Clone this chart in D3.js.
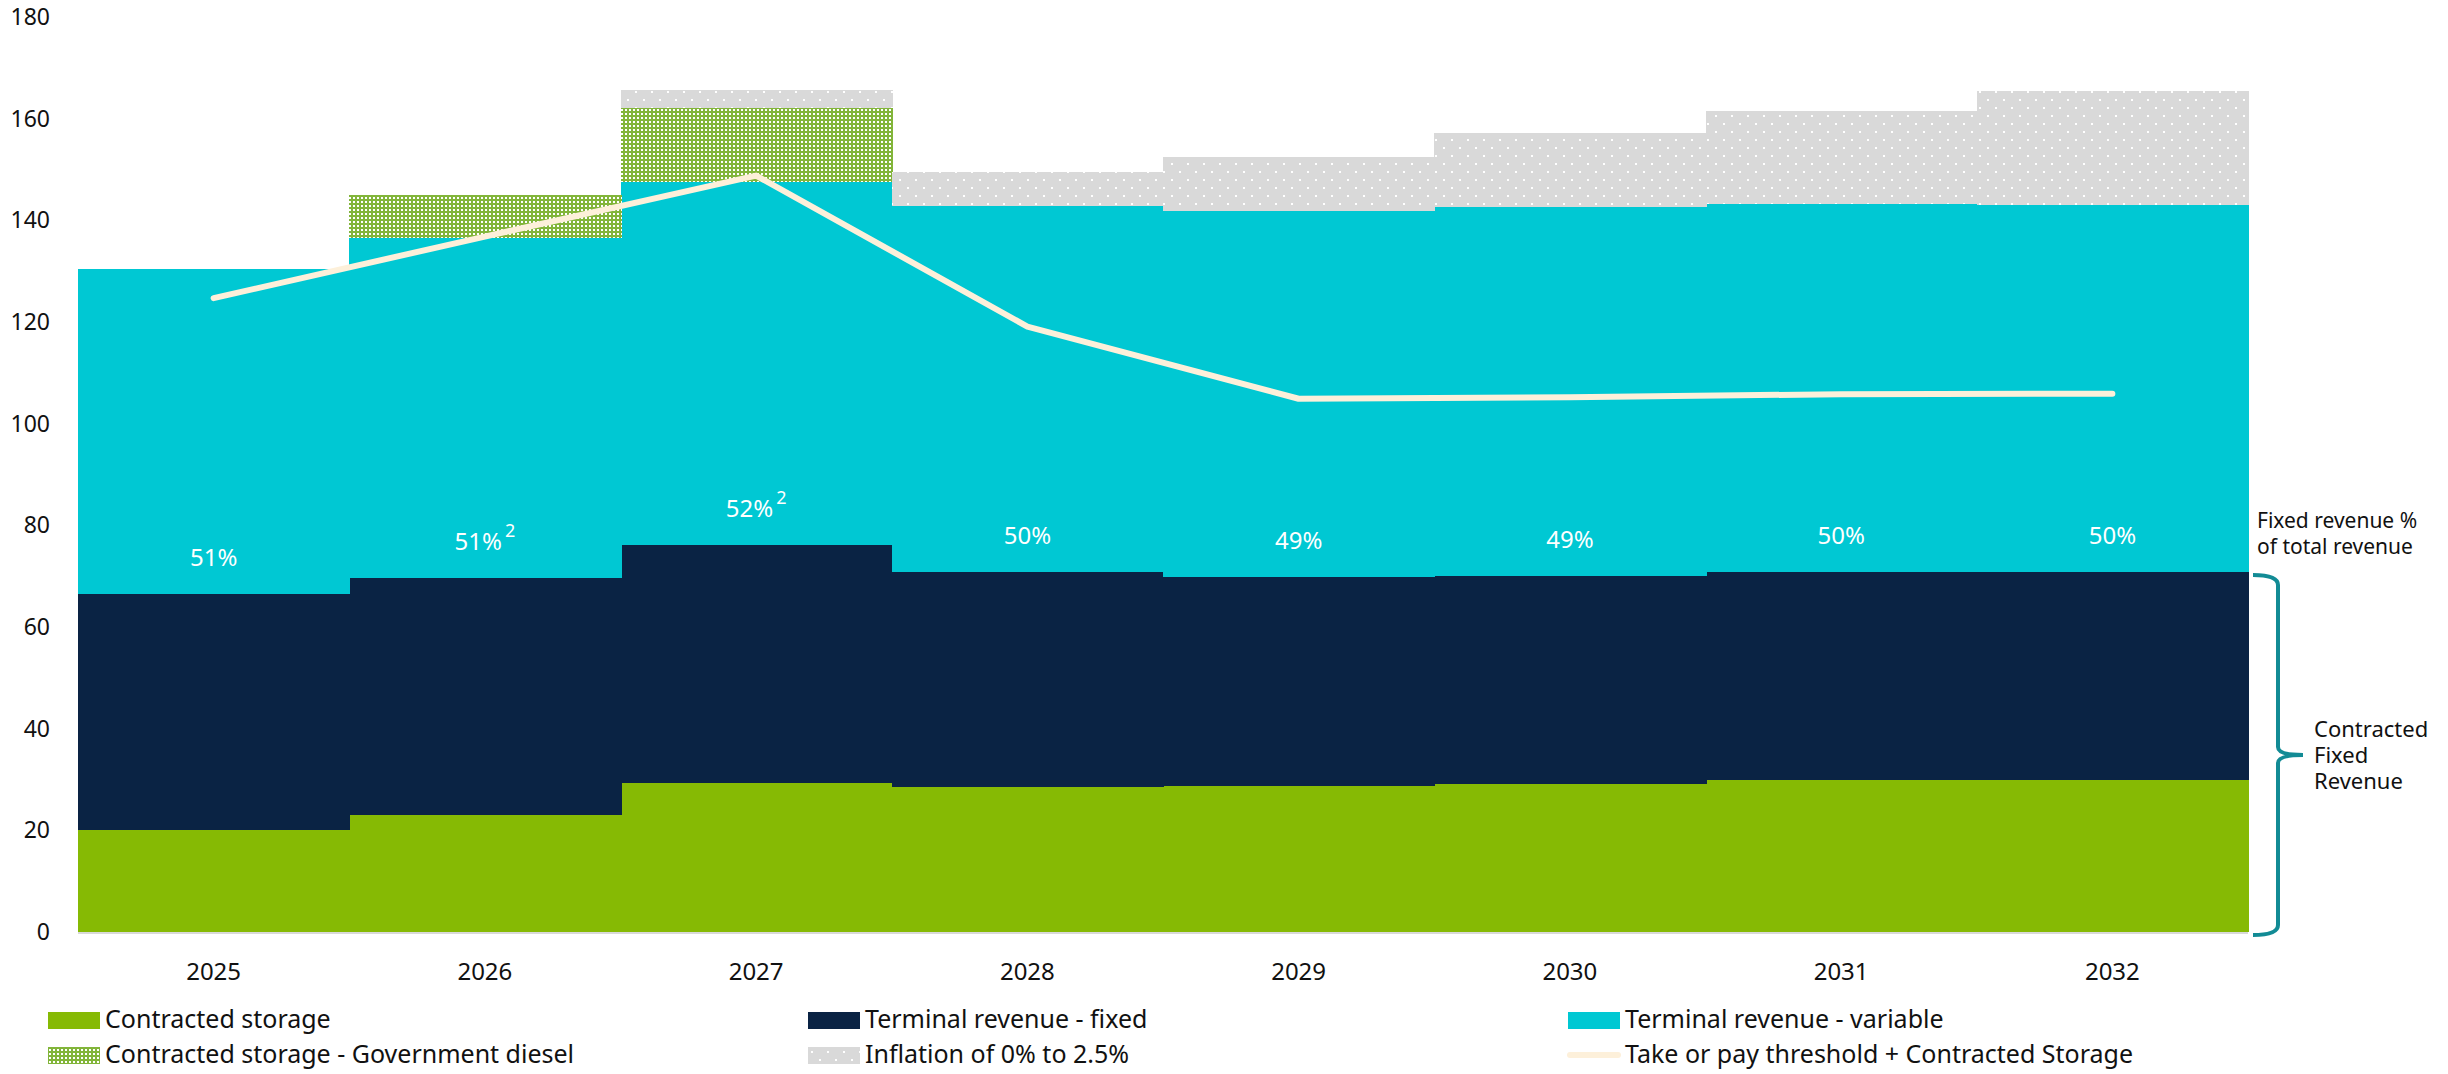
<!DOCTYPE html>
<html>
<head>
<meta charset="utf-8">
<script src="https://cdn.jsdelivr.net/npm/d3@7"></script>
<style>
  body { margin: 0; background: #fff; }
  svg { display: block; }
  text { font-family: "Noto Sans", sans-serif; fill: #111; }
</style>
</head>
<body>
<script>
// Chart data
const years = ["2025", "2026", "2027", "2028", "2029", "2030", "2031", "2032"];
const contractedStorage = [20.0, 23.0, 29.3, 28.5, 28.8, 29.1, 29.9, 30.0];
const terminalFixed = [46.5, 46.7, 46.8, 42.3, 41.0, 40.9, 40.9, 40.8];
const terminalVariable = [63.9, 66.9, 71.5, 72.0, 72.1, 72.7, 72.5, 72.2];
const govDiesel = [0, 8.4, 14.5, 0, 0, 0, 0, 0];
const inflation = [0, 0, 3.5, 6.8, 10.5, 14.4, 18.3, 22.4];
const takeOrPay = [124.7, 136.8, 148.8, 119.1, 104.9, 105.2, 105.8, 105.9];
const fixedPct = ["51%", "51%", "52%", "50%", "49%", "49%", "50%", "50%"];
const fixedPctNote = ["", "2", "2", "", "", "", "", ""];
const yTicks = [0, 20, 40, 60, 80, 100, 120, 140, 160, 180];

const seriesKeys = ["storage", "fixed", "variable", "gov", "inflation"];
const seriesNames = {
  storage: "Contracted storage",
  fixed: "Terminal revenue - fixed",
  variable: "Terminal revenue - variable",
  gov: "Contracted storage - Government diesel",
  inflation: "Inflation of 0% to 2.5%"
};
const seriesFill = {
  storage: "#86ba04",
  fixed: "#0a2344",
  variable: "#00c8d3",
  gov: "url(#govPattern)",
  inflation: "url(#inflPattern)"
};

const rows = years.map((yr, i) => ({
  year: yr,
  storage: contractedStorage[i],
  fixed: terminalFixed[i],
  variable: terminalVariable[i],
  gov: govDiesel[i],
  inflation: inflation[i]
}));

const W = 2448, H = 1074;
const svg = d3.select("body").append("svg").attr("width", W).attr("height", H);

// Patterns for the dotted series
const defs = svg.append("defs");
const gp = defs.append("pattern").attr("id", "govPattern")
  .attr("width", 4).attr("height", 4).attr("patternUnits", "userSpaceOnUse");
gp.append("rect").attr("width", 4).attr("height", 4).attr("fill", "#82b53a");
gp.append("rect").attr("x", 1).attr("y", 1).attr("width", 2).attr("height", 2).attr("fill", "#fff");

const ip = defs.append("pattern").attr("id", "inflPattern")
  .attr("width", 16).attr("height", 16).attr("patternUnits", "userSpaceOnUse");
ip.append("rect").attr("width", 16).attr("height", 16).attr("fill", "#d9d9d9");
ip.append("rect").attr("x", 3).attr("y", 3).attr("width", 2).attr("height", 2).attr("fill", "#fff");
ip.append("rect").attr("x", 11).attr("y", 11).attr("width", 2).attr("height", 2).attr("fill", "#fff");

// Scales
const x = d3.scaleBand().domain(years).range([78, 2248]).padding(0);
const y = d3.scaleLinear().domain([0, 180]).range([932, 17]);

const stacked = d3.stack().keys(seriesKeys)(rows);

// Bars
svg.append("g")
  .attr("shape-rendering", "crispEdges")
  .selectAll("g")
  .data(stacked)
  .join("g")
  .attr("fill", d => seriesFill[d.key])
  .selectAll("rect")
  .data(d => d)
  .join("rect")
  .attr("x", d => Math.round(x(d.data.year)))
  .attr("width", d => Math.round(x(d.data.year) + x.bandwidth()) - Math.round(x(d.data.year)) + 1)
  .attr("y", d => y(d[1]))
  .attr("height", d => Math.max(0, y(d[0]) - y(d[1])));

// Baseline
svg.append("line")
  .attr("x1", x.range()[0]).attr("x2", x.range()[1])
  .attr("y1", y(0) + 1).attr("y2", y(0) + 1)
  .attr("stroke", "#d9d9d9").attr("stroke-width", 2);

// Y axis labels (no axis line)
svg.append("g").selectAll("text")
  .data(yTicks)
  .join("text")
  .attr("x", 50)
  .attr("y", d => y(d) + 8)
  .attr("text-anchor", "end")
  .attr("font-size", 23)
  .text(d => d);

// X axis labels
svg.append("g").selectAll("text")
  .data(years)
  .join("text")
  .attr("x", d => x(d) + x.bandwidth() / 2)
  .attr("y", 980)
  .attr("text-anchor", "middle")
  .attr("font-size", 24)
  .text(d => d);

// Take or pay line
const line = d3.line()
  .x((d, i) => x(years[i]) + x.bandwidth() / 2)
  .y(d => y(d));
svg.append("path")
  .datum(takeOrPay)
  .attr("d", line)
  .attr("fill", "none")
  .attr("stroke", "#fdf0da")
  .attr("stroke-width", 6)
  .attr("stroke-linecap", "round")
  .attr("stroke-linejoin", "round");

// Fixed revenue % labels
const fixedTop = stacked[1];
const pctG = svg.append("g");
years.forEach((yr, i) => {
  const t = pctG.append("text")
    .attr("x", x(yr) + x.bandwidth() / 2)
    .attr("y", y(fixedTop[i][1]) - 28)
    .attr("text-anchor", "middle")
    .attr("font-family", "'Liberation Sans Narrow', 'Liberation Sans', sans-serif")
    .attr("font-size", 24)
    .style("fill", "#fff");
  t.append("tspan").text(fixedPct[i]);
  if (fixedPctNote[i]) {
    t.append("tspan").attr("dx", 3).attr("dy", -13).attr("font-size", 18).text(fixedPctNote[i]);
  }
});

// Right-side annotations
const ann = svg.append("g").attr("font-size", 21);
ann.append("text").attr("x", 2257).attr("y", 528).text("Fixed revenue %");
ann.append("text").attr("x", 2257).attr("y", 554).text("of total revenue");
["Contracted", "Fixed", "Revenue"].forEach((s, i) => {
  ann.append("text").attr("x", 2314).attr("y", 737 + i * 26).attr("font-size", 22).text(s);
});

// Brace
const bTop = y(fixedTop[fixedTop.length - 1][1]) + 3;
const bBot = y(0) + 3;
const bMid = (bTop + bBot) / 2;
const bx0 = 2253, bx1 = 2278, bTip = 2303;
const brace = d3.path();
brace.moveTo(bx0, bTop);
brace.quadraticCurveTo(bx1, bTop, bx1, bTop + 10);
brace.lineTo(bx1, bMid - 8);
brace.quadraticCurveTo(bx1, bMid, bTip, bMid);
brace.quadraticCurveTo(bx1, bMid, bx1, bMid + 8);
brace.lineTo(bx1, bBot - 10);
brace.quadraticCurveTo(bx1, bBot, bx0, bBot);
svg.append("path")
  .attr("d", brace.toString())
  .attr("fill", "none")
  .attr("stroke", "#128b95")
  .attr("stroke-width", 4);

// Legend
const legendItems = [
  { key: "storage", col: 0, row: 0 },
  { key: "fixed", col: 1, row: 0 },
  { key: "variable", col: 2, row: 0 },
  { key: "gov", col: 0, row: 1 },
  { key: "inflation", col: 1, row: 1 },
  { key: "line", col: 2, row: 1 }
];
const colX = [48, 808, 1568];
const rowY = [1020, 1055];
const leg = svg.append("g");
legendItems.forEach(it => {
  const gx = colX[it.col], gy = rowY[it.row];
  if (it.key === "line") {
    leg.append("line")
      .attr("x1", gx + 2).attr("x2", gx + 50)
      .attr("y1", gy).attr("y2", gy)
      .attr("stroke", "#fdf0da").attr("stroke-width", 6)
      .attr("stroke-linecap", "round");
  } else {
    leg.append("rect")
      .attr("x", gx).attr("y", gy - 8)
      .attr("width", 52).attr("height", 17)
      .attr("fill", seriesFill[it.key]);
  }
  leg.append("text")
    .attr("x", gx + 57)
    .attr("y", gy + 8)
    .attr("font-size", 25)
    .text(it.key === "line" ? "Take or pay threshold + Contracted Storage" : seriesNames[it.key]);
});
</script>
</body>
</html>
